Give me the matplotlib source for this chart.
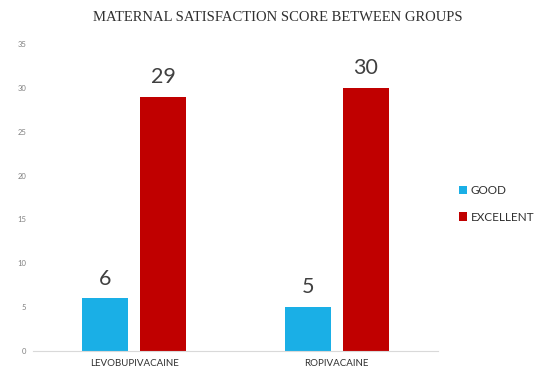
import matplotlib
matplotlib.use("Agg")
import matplotlib.pyplot as plt
import numpy as np

categories = ["LEVOBUPIVACAINE", "ROPIVACAINE"]
series_names = ["GOOD", "EXCELLENT"]
good = [6, 5]
excellent = [29, 30]
yticks = [0, 5, 10, 15, 20, 25, 30, 35]

colors = ["#1AAFE6", "#C00000"]
plt.rcParams["font.family"] = ["Lato", "DejaVu Sans"]

fig = plt.figure(figsize=(5.37, 3.71), dpi=100)
ax = fig.add_axes([0.0615, 0.054, 0.754, 0.827])

x = np.arange(len(categories))
w = 0.227
off = 0.143
b1 = ax.bar(x - off, good, w, color=colors[0], label=series_names[0])
b2 = ax.bar(x + off, excellent, w, color=colors[1], label=series_names[1])

for bars in (b1, b2):
    for r in bars:
        ax.annotate(f"{int(r.get_height())}", (r.get_x() + r.get_width() / 2, r.get_height()),
                    xytext=(0, 7), textcoords="offset points", ha="center", va="bottom",
                    fontsize=15.5, color="#404040")

ax.set_xlim(-0.5, 1.5)
ax.set_ylim(0, 35)
ax.set_yticks(yticks)
ax.set_xticks(x)
ax.set_xticklabels(categories)
ax.tick_params(axis="y", length=0, labelsize=5.5, labelcolor="#808080", pad=5)
ax.tick_params(axis="x", length=0, labelsize=7, labelcolor="#303030", pad=6)
for s in ["top", "right", "left"]:
    ax.spines[s].set_visible(False)
ax.spines["bottom"].set_color("#D9D9D9")

fig.text(0.518, 0.952, "MATERNAL SATISFACTION SCORE BETWEEN GROUPS", ha="center", va="center",
         family="Liberation Serif", fontsize=10.5, color="#303030")

leg = fig.legend(handles=[b1, b2], labels=series_names, loc="center left",
                 bbox_to_anchor=(0.835, 0.45), frameon=False, fontsize=8.5,
                 handlelength=0.7, handleheight=0.7, handletextpad=0.3, labelspacing=1.3)
for t in leg.get_texts():
    t.set_color("#303030")

fig.savefig("out.png", dpi=100)
